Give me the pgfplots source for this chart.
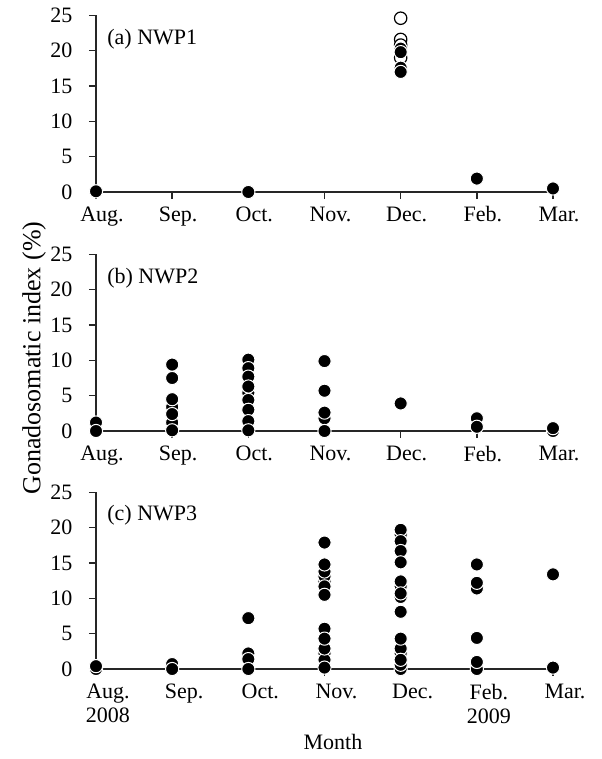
\documentclass[border=0pt]{standalone}
\usepackage{fontspec}
\setmainfont{Liberation Serif}
\usepackage{pgfplots}
\pgfplotsset{compat=1.18}
\pgfplotsset{
  gsi/.style={
    scale only axis, width=228.5pt, height=88.3pt,
    xmin=0, xmax=6, ymin=0, ymax=25,
    axis lines*=left,
    axis line style={line width=0.7pt, black!85},
    xtick={0,...,6}, ytick={0,5,...,25},
    xticklabels={Aug.,Sep.,Oct.,Nov.,Dec.,Feb.,Mar.},
    tick align=outside, major tick length=3.5pt,
    tick style={line width=0.7pt, black!85},
    clip=false,
    /pgf/number format/assume math mode=true,
    xticklabel style={xshift=3pt},
    yticklabel style={xshift=-4.5pt},
    anchor=south west,
  },
  fm/.style={only marks, mark=*, mark size=3.3pt, mark options={fill=black, draw=white, line width=0.5pt}},
  om/.style={only marks, mark=*, mark size=3.1pt, mark options={fill=white, draw=black, line width=0.6pt}},
}
\begin{document}
\fontsize{11}{12}\selectfont
\begin{tikzpicture}
\path[use as bounding box] (-48pt,0pt) rectangle (252.5pt,-379.5pt);
% (a)
\begin{axis}[gsi, at={(0pt,-96pt)}]
\addplot[om] coordinates {(4,24.6) (4,21.6) (4,20.8) (4,19.0)};
\addplot[fm] coordinates {(0,0.1) (2,0) (4,20.3) (4,19.8) (4,17.6) (4,17.0) (5,1.9) (6,0.5)};
\node[anchor=west, xshift=1.8pt] at (axis cs:0,21.7) {(a) NWP1};
\end{axis}
% (b)
\begin{axis}[gsi, at={(0pt,-215.5pt)}]
\addplot[fm] coordinates {
 (0,1.2) (0,0)
 (1,9.4) (1,7.5) (1,3.4) (1,4.5) (1,1.2) (1,2.4) (1,0.1)
 (2,10.1) (2,8.9) (2,7.7) (2,5.4) (2,6.3) (2,4.4) (2,3.0) (2,1.4) (2,0.1)
 (3,1.8) (3,9.9) (3,5.7) (3,2.6) (3,0)
 (4,3.9)
 (5,1.8) (5,0.6)
 (6,0) (6,0.4)
};
\node[anchor=west, xshift=1.8pt] at (axis cs:0,21.7) {(b) NWP2};
\end{axis}
% (c)
\begin{axis}[gsi, at={(0pt,-334.5pt)},
  xticklabels={Aug.\\2008,Sep.,Oct.,Nov.,Dec.,Feb.\\2009,Mar.},
  xticklabel style={xshift=3pt, align=center}]
\addplot[fm] coordinates {
 (0,0) (0,0.4)
 (1,0.7) (1,0)
 (2,7.2) (2,2.2) (2,1.4) (2,0)
 (3,17.9) (3,12.4) (3,13.1) (3,13.8) (3,14.8) (3,11.7) (3,10.5) (3,2.2) (3,1.3) (3,2.9) (3,5.7) (3,4.3) (3,0.2)
 (4,19.0) (4,19.7) (4,18.1) (4,16.7) (4,15.1) (4,11.7) (4,12.4) (4,10.2) (4,10.7) (4,8.1) (4,2.2) (4,2.9) (4,4.3) (4,0) (4,0.6) (4,1.3)
 (5,14.8) (5,11.4) (5,12.2) (5,4.4) (5,0) (5,1.0)
 (6,13.4) (6,0.2)
};
\node[anchor=west, xshift=1.8pt] at (axis cs:0,21.8) {(c) NWP3};
\end{axis}
\node[rotate=90, font=\fontsize{13}{15}\selectfont] at (-31pt,-179pt) {Gonadosomatic index (\%)};
\node at (118.5pt,-371pt) {Month};
\end{tikzpicture}
\end{document}
